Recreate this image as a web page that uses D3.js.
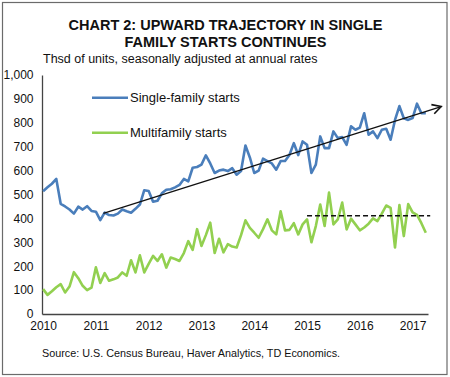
<!DOCTYPE html>
<html><head><meta charset="utf-8">
<script src="https://cdn.jsdelivr.net/npm/d3@7"></script>
<style>
html,body{margin:0;padding:0;background:#fff;}
svg{display:block;font-family:"Liberation Sans",Arial,sans-serif;}
</style></head>
<body><svg id="c" width="450" height="377"></svg>
<script>
// ---- data (monthly, Jan 2010 .. Apr 2017, thousands of units SAAR) ----
const singleFamily = [514,530,545,565,461,450,437,420,449,437,451,431,
  428,393,424,414,412,420,437,430,424,440,458,518,
  515,470,474,505,520,522,530,540,565,555,612,615,
  625,664,630,590,600,604,598,610,583,598,705,655,
  590,600,650,640,630,604,640,640,665,715,665,722,
  708,590,625,743,694,694,764,736,740,708,785,771,
  780,840,750,764,736,771,775,729,812,870,819,812,
  820,880,840,840];
const multiFamily = [104,80,95,112,125,90,115,175,150,118,100,110,
  195,130,171,139,145,153,174,160,225,174,246,174,
  210,243,222,250,194,236,230,222,255,305,268,355,
  285,330,382,255,315,258,292,282,278,330,392,360,
  340,319,355,396,350,333,430,350,352,380,333,375,
  396,300,368,458,368,508,375,396,466,354,399,375,
  350,362,378,400,389,420,454,444,278,456,326,460,
  425,415,380,340];
const seriesNames = ["Single-family starts","Multifamily starts"];
const yearTicks = [0,12,24,36,48,60,72,84];            // month index of each January
const yearLabels = ["2010","2011","2012","2013","2014","2015","2016","2017"];
const yTicks = [0,100,200,300,400,500,600,700,800,900,1000];
// trend arrow (month index, value) and multifamily average (dashed)
const trendStart = [13.7, 421], trendEnd = [90.5, 868];
const mfAvg = {from: 60, to: 88, value: 411};

const svg = d3.select("#c");
// frame
svg.append("rect").attr("x",2.5).attr("y",2.5).attr("width",444.5).attr("height",372)
  .attr("fill","#fff").attr("stroke","#6b6b6b").attr("stroke-width",1.2);

// title
const title = svg.append("text").attr("text-anchor","middle").attr("font-weight","bold")
  .attr("font-size",14.5).attr("fill","#111");
title.append("tspan").attr("x",225.5).attr("y",29.5).text("CHART 2: UPWARD TRAJECTORY IN SINGLE");
title.append("tspan").attr("x",225.5).attr("y",46.7).text("FAMILY STARTS CONTINUES");
svg.append("text").attr("x",43).attr("y",62.5).attr("font-size",12.5).attr("fill","#111")
  .text("Thsd of units, seasonally adjusted at annual rates");

const x = d3.scaleLinear().domain([-0.25, 87.5]).range([42, 428]);
const y = d3.scaleLinear().domain([0, 1000]).range([314, 75]);

// axes
const yAxis = svg.append("g").attr("transform","translate(42,0)")
  .call(d3.axisLeft(y).tickValues(yTicks).tickSize(0).tickPadding(8).tickFormat(d3.format(",")));
const xAxis = svg.append("g").attr("transform","translate(0,314)")
  .call(d3.axisBottom(x).tickValues(yearTicks).tickSize(0).tickPadding(7)
    .tickFormat((d,i)=>yearLabels[i]));
[yAxis,xAxis].forEach(g=>{
  g.select(".domain").attr("stroke","#444").attr("stroke-width",1.3);
  g.selectAll("text").attr("font-size",12).attr("fill","#111")
    .attr("font-family","'Liberation Sans',Arial,sans-serif");
});
yAxis.selectAll("text").attr("dx", -0.5);

// lines
const line = d3.line().x((d,i)=>x(i)).y(d=>y(d));
svg.append("path").datum(multiFamily).attr("d",line).attr("fill","none")
  .attr("stroke","#92d050").attr("stroke-width",2.6).attr("stroke-linejoin","round");
svg.append("path").datum(singleFamily).attr("d",line).attr("fill","none")
  .attr("stroke","#4a7ebb").attr("stroke-width",2.6).attr("stroke-linejoin","round");

// dashed average
svg.append("line").attr("x1",x(mfAvg.from)).attr("x2",x(mfAvg.to))
  .attr("y1",y(mfAvg.value)).attr("y2",y(mfAvg.value))
  .attr("stroke","#111").attr("stroke-width",1.3).attr("stroke-dasharray","5,3");

// trend arrow
const ax1 = x(trendStart[0]), ay1 = y(trendStart[1]), ax2 = x(trendEnd[0]), ay2 = y(trendEnd[1]);
svg.append("line").attr("x1",ax1).attr("y1",ay1).attr("x2",ax2).attr("y2",ay2)
  .attr("stroke","#111").attr("stroke-width",1.3);
const ang = Math.atan2(ay2-ay1, ax2-ax1), L = 10, W = 0.5;
svg.append("path").attr("d",
  `M${ax2-L*Math.cos(ang-W)},${ay2-L*Math.sin(ang-W)} L${ax2},${ay2} L${ax2-L*Math.cos(ang+W)},${ay2-L*Math.sin(ang+W)}`)
  .attr("fill","none").attr("stroke","#111").attr("stroke-width",1.6);

// legend
const legendColors = ["#4a7ebb","#92d050"];
const legY = [97.7, 132.7];
seriesNames.forEach((n,i)=>{
  svg.append("line").attr("x1",92).attr("x2",128).attr("y1",legY[i]).attr("y2",legY[i])
    .attr("stroke",legendColors[i]).attr("stroke-width",2.6);
  svg.append("text").attr("x",130).attr("y",legY[i]+4.6).attr("font-size",13).attr("fill","#111").text(n);
});

// source
svg.append("text").attr("x",42).attr("y",357).attr("font-size",10.8).attr("fill","#111")
  .text("Source: U.S. Census Bureau, Haver Analytics, TD Economics.");
</script></body></html>
